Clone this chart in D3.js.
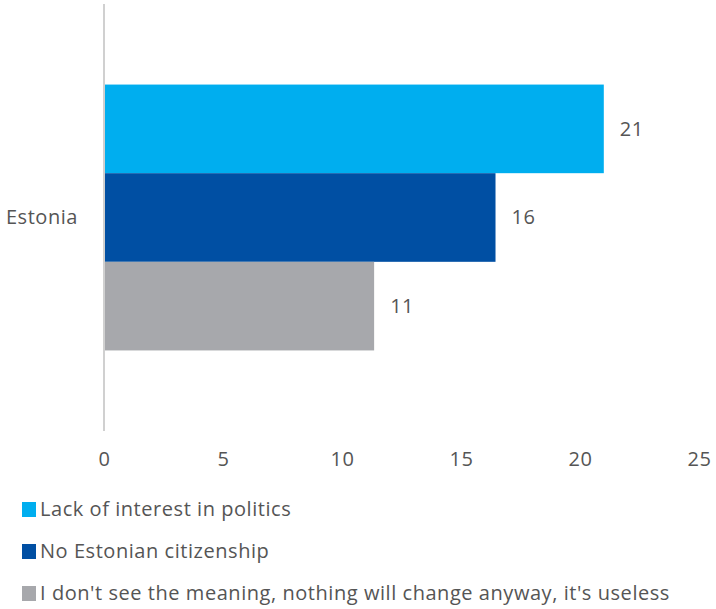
<!DOCTYPE html>
<html>
<head>
<meta charset="utf-8">
<script src="https://cdn.jsdelivr.net/npm/d3@7"></script>
<style>
  html, body { margin: 0; padding: 0; background: #fff; }
  svg { display: block; }
  text { font-family: "Open Sans", sans-serif; fill: #555; letter-spacing: 0.55px; }
</style>
</head>
<body>
<svg id="chart" width="716" height="609"></svg>
<script>
// Reasons for not voting, Estonia (%)
const categories = ["Estonia"];
const seriesNames = [
  "Lack of interest in politics",
  "No Estonian citizenship",
  "I don't see the meaning, nothing will change anyway, it's useless"
];
const seriesColors = ["#00AEEF", "#004FA3", "#A7A8AC"];
const seriesValues = [[21.0], [16.45], [11.35]];
const xTicks = [0, 5, 10, 15, 20, 25];

const FONT = "'Open Sans', sans-serif";
const svg = d3.select("#chart");
const margin = { left: 104, right: 17, top: 4, bottom: 178 };
const width = 716, height = 609;
const plotBottom = height - margin.bottom;

const x = d3.scaleLinear().domain([0, 25]).range([margin.left, width - margin.right]);
const y = d3.scaleBand().domain(categories).range([margin.top, plotBottom]).paddingInner(0).paddingOuter(0.303);
const ySub = d3.scaleBand().domain(d3.range(seriesNames.length)).range([0, y.bandwidth()]).padding(0);

// category groups and bars
const groups = svg.selectAll("g.cat").data(categories).join("g")
  .attr("class", "cat")
  .attr("transform", c => `translate(0,${y(c)})`);

seriesNames.forEach((name, i) => {
  groups.append("rect")
    .attr("x", x(0))
    .attr("y", ySub(i))
    .attr("width", (c, ci) => x(seriesValues[i][ci]) - x(0))
    .attr("height", ySub.bandwidth())
    .attr("fill", seriesColors[i]);
  groups.append("text")
    .attr("x", (c, ci) => x(seriesValues[i][ci]) + 16)
    .attr("y", ySub(i) + ySub.bandwidth() / 2)
    .attr("dy", "0.35em")
    .attr("font-size", 20)
    .text((c, ci) => d3.format(".0f")(seriesValues[i][ci]));
});

// category axis (left)
const yAxis = svg.append("g").attr("transform", `translate(${x(0)},0)`)
  .call(d3.axisLeft(y).tickSize(0).tickPadding(26));
yAxis.select(".domain").remove();
yAxis.selectAll("text").attr("font-size", 20).attr("fill", "#555").style("font-family", FONT);

svg.append("line")
  .attr("x1", x(0)).attr("x2", x(0))
  .attr("y1", margin.top).attr("y2", plotBottom)
  .attr("stroke", "#d0d0d0").attr("stroke-width", 2);

// value axis (bottom)
const xAxis = svg.append("g").attr("transform", `translate(0,${plotBottom})`)
  .call(d3.axisBottom(x).tickValues(xTicks).tickSize(0).tickPadding(21));
xAxis.select(".domain").remove();
xAxis.selectAll("text").attr("font-size", 20).attr("fill", "#555").style("font-family", FONT);

// legend
const legend = svg.append("g").attr("transform", "translate(22,509)");
seriesNames.forEach((name, i) => {
  const row = legend.append("g").attr("transform", `translate(0,${i * 42})`);
  row.append("rect").attr("x", 0).attr("y", -7).attr("width", 14).attr("height", 15)
    .attr("fill", seriesColors[i]);
  row.append("text").attr("x", 18).attr("dy", "0.35em").attr("font-size", 20).text(name);
});
</script>
</body>
</html>
